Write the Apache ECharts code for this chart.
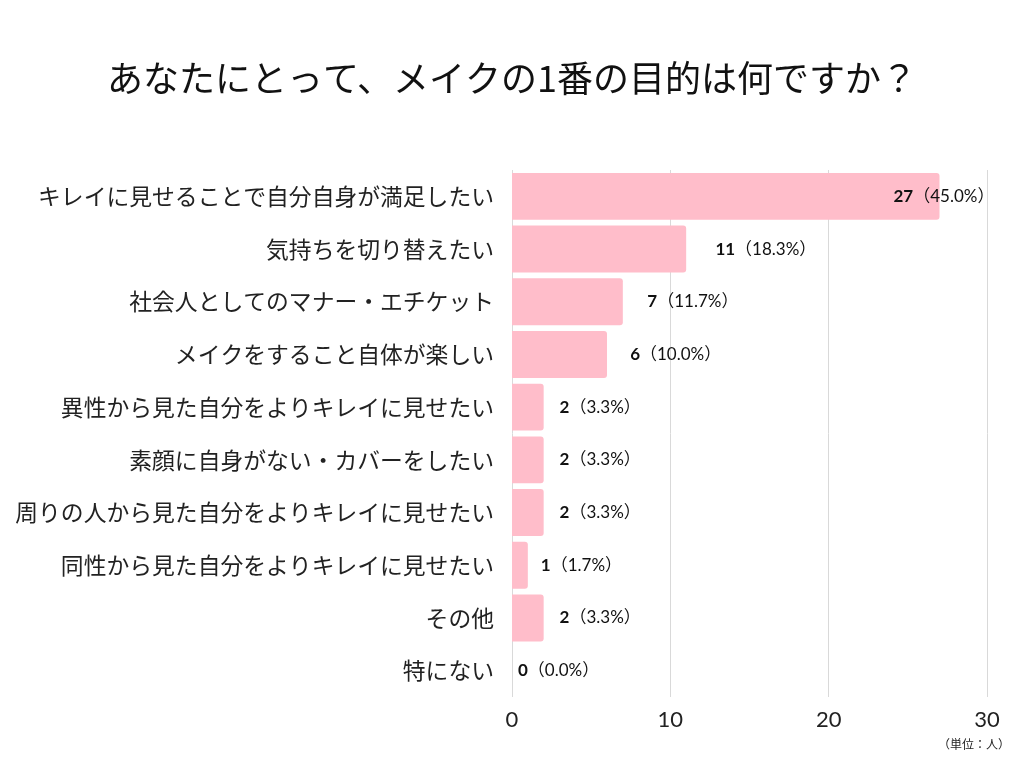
<!DOCTYPE html>
<html><head><meta charset="utf-8">
<script src="https://cdn.jsdelivr.net/npm/echarts@6/dist/echarts.min.js"></script>
<style>html,body{margin:0;padding:0;background:#fff}#c{width:1024px;height:768px}</style>
</head><body><div id="c"></div>
<script>
const categories = ['キレイに見せることで自分自身が満足したい','気持ちを切り替えたい','社会人としてのマナー・エチケット','メイクをすること自体が楽しい','異性から見た自分をよりキレイに見せたい','素顔に自身がない・カバーをしたい','周りの人から見た自分をよりキレイに見せたい','同性から見た自分をよりキレイに見せたい','その他','特にない'];
const values = [27, 11, 7, 6, 2, 2, 2, 1, 2, 0];
const percents = ['45.0', '18.3', '11.7', '10.0', '3.3', '3.3', '3.3', '1.7', '3.3', '0.0'];
const xTicks = [0, 10, 20, 30];

const font = '"Noto Sans CJK JP", "Noto Sans", sans-serif';
const numFont = 'Lato, "Noto Sans CJK JP", sans-serif';
const chart = echarts.init(document.getElementById('c'));
const data = values.map((v, i) => {
  const item = { value: v, pct: percents[i], label: { distance: 6 + 7 * Math.sqrt(v) } };
  if (v >= 25) item.label = { distance: 30, offset: [-76, 0] };
  return item;
});
chart.setOption({
  animation: false,
  title: {
    text: 'あなたにとって、メイクの1番の目的は何ですか？',
    left: 'center', top: 55,
    textStyle: { fontFamily: font, fontSize: 36, fontWeight: 'normal', color: '#111' }
  },
  graphic: [{
    type: 'text', right: 14, top: 738,
    style: { text: '（単位：人）', font: '12px ' + font, fill: '#222' }
  }],
  grid: { left: 512, right: 37, top: 170, bottom: 71 },
  xAxis: {
    type: 'value', min: 0, max: 30, interval: 10,
    axisLine: { show: false }, axisTick: { show: false },
    splitLine: { show: true, lineStyle: { color: '#d9d9d9', width: 1 } },
    axisLabel: { fontFamily: 'Lato, sans-serif', fontSize: 22, color: '#222', margin: 12 }
  },
  yAxis: {
    type: 'category', data: categories, inverse: true,
    axisLine: { show: false }, axisTick: { show: false },
    axisLabel: { fontFamily: font, fontSize: 22.8, color: '#222', margin: 18 }
  },
  series: [{
    type: 'bar', data: data, barWidth: '89%',
    itemStyle: { color: '#FFBDCA', borderRadius: [0, 3, 3, 0] },
    label: {
      show: true, position: 'right', distance: 30,
      formatter: p => '{b|' + p.value + '}{n|（' + p.data.pct + '%）}',
      rich: {
        b: { fontFamily: numFont, fontSize: 17, fontWeight: 'bold', color: '#111' },
        n: { fontFamily: numFont, fontSize: 17, color: '#111' }
      }
    }
  }]
});
</script></body></html>
